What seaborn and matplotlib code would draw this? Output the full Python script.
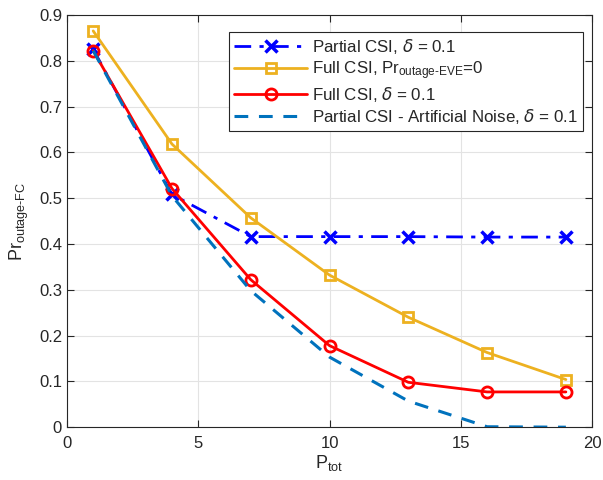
import numpy as np
import pandas as pd
import seaborn as sns
import matplotlib.pyplot as plt

# --- data ---
p_tot = [1, 4, 7, 10, 13, 16, 19]
partial_csi = [0.825, 0.508, 0.416, 0.416, 0.416, 0.415, 0.415]
full_csi_eve0 = [0.865, 0.618, 0.457, 0.332, 0.240, 0.163, 0.104]
full_csi = [0.822, 0.521, 0.322, 0.178, 0.098, 0.077, 0.077]
partial_csi_an = [0.822, 0.505, 0.298, 0.153, 0.057, 0.001, 0.0]

labels = [
    r'Partial CSI, $\mathit{\delta}$ = 0.1',
    'Full CSI, Pr$_{outage\u2010EVE}$=0',
    r'Full CSI, $\mathit{\delta}$ = 0.1',
    r'Partial CSI - Artificial Noise, $\mathit{\delta}$ = 0.1',
]

sns.set_style('whitegrid')
plt.rcParams['font.family'] = ['Liberation Sans', 'DejaVu Sans']
plt.rcParams['mathtext.default'] = 'regular'

fig = plt.figure(figsize=(6.03, 4.8), dpi=100)
ax = fig.add_axes([0.111, 0.110, 0.871, 0.859])

sns.lineplot(x=p_tot, y=partial_csi, ax=ax, color='#0000FF',
             linewidth=2, marker='x', markersize=9, markeredgewidth=2.5,
             markeredgecolor='#0000FF', label=labels[0])
ax.lines[-1].set_linestyle((0, (6, 3, 1.5, 3)))
sns.lineplot(x=p_tot, y=full_csi_eve0, ax=ax, color='#EDB120', linestyle='-',
             linewidth=2, marker='s', markersize=7, markeredgewidth=2,
             markerfacecolor='none', markeredgecolor='#EDB120', label=labels[1])
sns.lineplot(x=p_tot, y=full_csi, ax=ax, color='#FF0000', linestyle='-',
             linewidth=2, marker='o', markersize=8, markeredgewidth=2,
             markerfacecolor='none', markeredgecolor='#FF0000', label=labels[2])
sns.lineplot(x=p_tot, y=partial_csi_an, ax=ax, color='#0072BD',
             linewidth=2.2, label=labels[3])
ax.lines[-1].set_linestyle((0, (4.5, 3.5)))

ax.set_xlim(0, 20)
ax.set_ylim(0, 0.9)
ax.set_xticks(np.arange(0, 21, 5))
ax.set_yticks(np.arange(0, 0.91, 0.1))
ax.set_yticklabels(['0'] + [f'{v:.1f}' for v in np.arange(0.1, 0.91, 0.1)])

ax.grid(True, color='#e3e3e3', linewidth=0.8)
for s in ax.spines.values():
    s.set_visible(True)
    s.set_color('#262626')
    s.set_linewidth(0.8)
ax.tick_params(direction='in', length=5, width=0.8, colors='#262626',
               labelsize=12, top=True, right=True, bottom=True, left=True,
               labeltop=False, labelright=False)
ax.tick_params(axis='x', pad=6)

ax.set_xlabel('P$_{tot}$', fontsize=13, color='#262626', labelpad=2)
ax.set_ylabel('Pr$_{outage\u2010FC}$', fontsize=13, color='#262626', labelpad=6)

leg = ax.legend(loc='upper right', bbox_to_anchor=(0.983, 0.959), fontsize=12.2,
                frameon=True, fancybox=False, framealpha=1, edgecolor='#262626',
                handlelength=4.3, handletextpad=0.3, borderpad=0.3,
                labelspacing=0.18, borderaxespad=0)
leg.get_frame().set_linewidth(0.8)

fig.savefig('out.png', dpi=100)
